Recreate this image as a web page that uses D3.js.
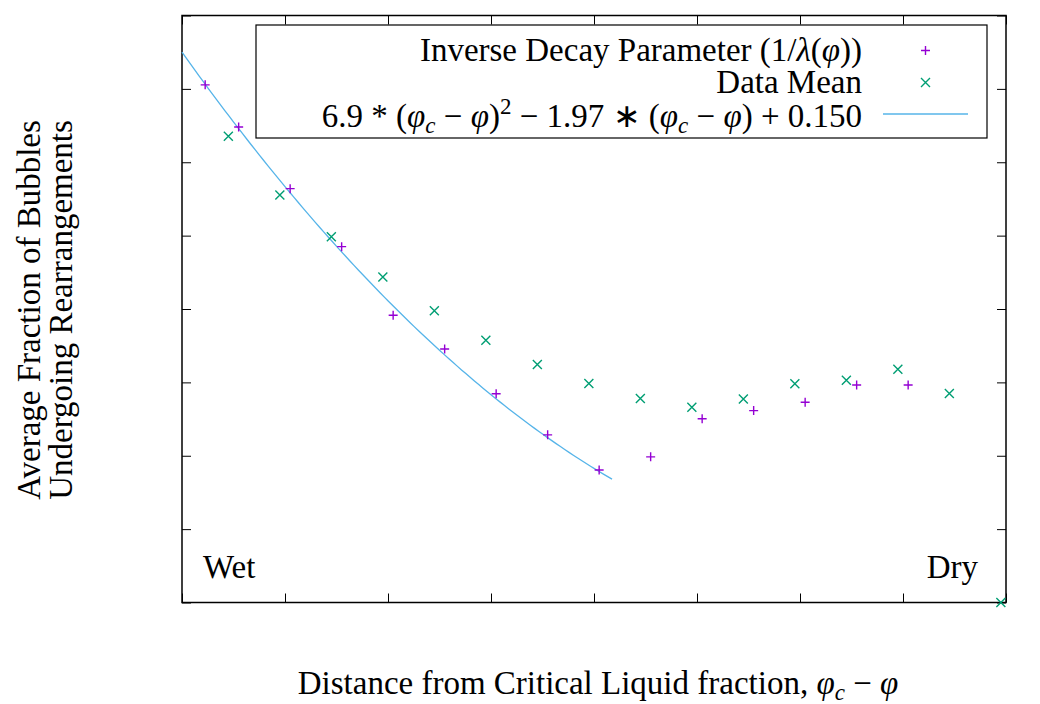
<!DOCTYPE html>
<html>
<head>
<meta charset="utf-8">
<script src="https://d3js.org/d3.v7.min.js"></script>
</head>
<body style="margin:0">
<script>
// purple "+" : inverse decay parameter
var decayX = [0.0045, 0.011, 0.021, 0.031, 0.041, 0.051, 0.061, 0.071, 0.081, 0.091, 0.101, 0.111, 0.121, 0.131, 0.141];
var decayY = [0.1411, 0.1296, 0.1128, 0.0970, 0.0783, 0.0691, 0.0569, 0.0457, 0.0361, 0.0397, 0.0501, 0.0523, 0.0546, 0.0593, 0.0593];

// green "x" : data mean
var meanX = [0.009, 0.019, 0.029, 0.039, 0.049, 0.059, 0.069, 0.079, 0.089, 0.099, 0.109, 0.119, 0.129, 0.139, 0.149, 0.159];
var meanY = [0.1271, 0.1111, 0.0997, 0.0887, 0.0795, 0.0715, 0.0649, 0.0597, 0.0556, 0.0532, 0.0555, 0.0596, 0.0606, 0.0636, 0.0570, 0.0];

// fit: 6.9*x^2 - 1.97*x + 0.150, drawn over [0, 0.0835]
var fitCoef = [6.9, -1.97, 0.150];
var fitRange = [0, 0.0835];

var xTicks = [0, 0.02, 0.04, 0.06, 0.08, 0.1, 0.12, 0.14, 0.16];
var yTicks = [0, 0.02, 0.04, 0.06, 0.08, 0.1, 0.12, 0.14, 0.16];

var PHI = "\u03c6", LAMBDA = "\u03bb", MINUS = "\u2212", AST = "\u2217";

var width = 1040, height = 704,
    margin = { left: 182, right: 34, top: 15.5, bottom: 101.5 };

var purple = "#9400d3", green = "#009e73", blue = "#56b4e9";
var FS = 33;

function translate(x, y){ return "translate(" + x + "," + y + ")"; }
function serif(sel){ return sel.style("font-family", function(){ return "'Liberation Serif'"; }); }

var w = width - margin.left - margin.right,
    h = height - margin.top - margin.bottom;

var xScale = d3.scaleLinear().domain([0, 0.16]).range([0, w]);
var yScale = d3.scaleLinear().domain([0, 0.16]).range([h, 0]);

var svg = d3.select("body").append("svg")
    .attr("width", width)
    .attr("height", height);

var g = svg.append("g").attr("transform", translate(margin.left, margin.top));

var fmt = function(d){ return String(+d.toFixed(2)); };

function styleAxis(sel, labels){
    sel.attr("font-family", null).attr("font-size", null);
    sel.select(".domain").remove();
    sel.selectAll(".tick line").attr("stroke", "#000").attr("stroke-width", 1);
    var t = sel.selectAll(".tick text").attr("font-size", FS).attr("fill", null);
    serif(t);
    if(!labels) t.remove();
}

g.append("g").attr("transform", translate(0, h))
    .call(d3.axisBottom(xScale).tickValues(xTicks).tickFormat(fmt).tickSizeInner(-9).tickSizeOuter(0).tickPadding(19))
    .call(styleAxis, true);
g.append("g")
    .call(d3.axisTop(xScale).tickValues(xTicks).tickSizeInner(-9).tickSizeOuter(0))
    .call(styleAxis, false);
g.append("g")
    .call(d3.axisLeft(yScale).tickValues(yTicks).tickFormat(fmt).tickSizeInner(-9).tickSizeOuter(0).tickPadding(21))
    .call(styleAxis, true);
g.append("g").attr("transform", translate(w, 0))
    .call(d3.axisRight(yScale).tickValues(yTicks).tickSizeInner(-9).tickSizeOuter(0))
    .call(styleAxis, false);

g.append("rect")
    .attr("width", w).attr("height", h)
    .attr("fill", "none").attr("stroke", "#000").attr("stroke-width", 1.5);

// fit curve
var fitPts = d3.range(0, 101).map(function(i){
    var x = fitRange[0] + (fitRange[1] - fitRange[0]) * i / 100;
    return [x, fitCoef[0] * x * x + fitCoef[1] * x + fitCoef[2]];
});
var line = d3.line().x(function(d){ return xScale(d[0]); }).y(function(d){ return yScale(d[1]); });
g.append("path").datum(fitPts)
    .attr("d", line).attr("fill", "none").attr("stroke", blue).attr("stroke-width", 1.3);

var plusPath = "M-4.5,0H4.5M0,-4.5V4.5";
var crossPath = "M-4.5,-4.5L4.5,4.5M-4.5,4.5L4.5,-4.5";

g.append("g").selectAll("path")
    .data(d3.zip(decayX, decayY))
    .enter().append("path")
    .attr("transform", function(d){ return translate(xScale(d[0]), yScale(d[1])); })
    .attr("d", plusPath).attr("stroke", purple).attr("stroke-width", 1.4).attr("fill", "none");

g.append("g").selectAll("path")
    .data(d3.zip(meanX, meanY))
    .enter().append("path")
    .attr("transform", function(d){ return translate(xScale(d[0]), yScale(d[1])); })
    .attr("d", crossPath).attr("stroke", green).attr("stroke-width", 1.4).attr("fill", "none");

// rich text: list of [string, italic, size, dy]
function rich(parent, x, y, anchor, parts){
    var t = parent.append("text").attr("x", x).attr("y", y)
        .attr("text-anchor", anchor).attr("font-size", FS);
    serif(t);
    t.selectAll("tspan").data(parts).enter().append("tspan")
        .attr("font-style", function(d){ return d[1] ? "italic" : null; })
        .attr("font-size", function(d){ return d[2] || null; })
        .attr("dy", function(d){ return d[3] || null; })
        .text(function(d){ return d[0]; });
    return t;
}

// phi_c - phi, as tspan parts
var phicMinusPhi = [[PHI, true], ["c", true, 23, 6], [" " + MINUS + " ", false, null, -6], [PHI, true]];

// legend
var legend = svg.append("g");
legend.append("rect")
    .attr("x", 256).attr("y", 25).attr("width", 731).attr("height", 113)
    .attr("fill", "#fff").attr("stroke", "#000").attr("stroke-width", 1.2);

rich(legend, 862, 61, "end", [["Inverse Decay Parameter (1/"], [LAMBDA, true], ["("], [PHI, true], ["))"]]);
rich(legend, 862, 93, "end", [["Data Mean"]]);
rich(legend, 862, 127, "end",
    [["6.9 * ("]].concat(phicMinusPhi, [[")"], ["2", false, 23, -13], [" " + MINUS + " 1.97 " + AST + " (", false, null, 13]],
        phicMinusPhi, [[") + 0.150"]]));

legend.append("path").attr("transform", translate(925.5, 50.5)).attr("d", plusPath)
    .attr("stroke", purple).attr("stroke-width", 1.4);
legend.append("path").attr("transform", translate(925.5, 82.5)).attr("d", crossPath)
    .attr("stroke", green).attr("stroke-width", 1.4);
legend.append("line").attr("x1", 883).attr("x2", 968).attr("y1", 114).attr("y2", 114)
    .attr("stroke", blue).attr("stroke-width", 1.3);

// annotations
rich(svg, 203, 578, "start", [["Wet"]]);
rich(svg, 978, 578, "end", [["Dry"]]);

// axis labels
rich(svg, 598, 694, "middle", [["Distance from Critical Liquid fraction, "]].concat(phicMinusPhi));

var yl = svg.append("text").attr("transform", "translate(40,310) rotate(-90)")
    .attr("text-anchor", "middle").attr("font-size", FS);
serif(yl);
yl.append("tspan").attr("x", 0).attr("dy", 0).text("Average Fraction of Bubbles");
yl.append("tspan").attr("x", 0).attr("dy", 32).text("Undergoing Rearrangements");
</script>
</body>
</html>
